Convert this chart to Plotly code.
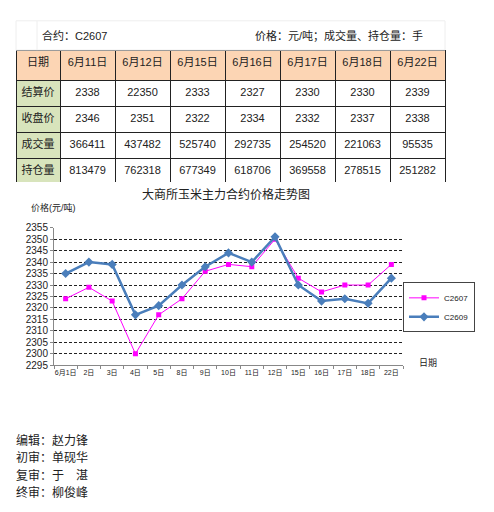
import plotly.graph_objects as go

# page body keeps an 8px margin, so the figure is 16px smaller than the window
OFF = 8
W, H = 494 - 2 * OFF, 512 - 2 * OFF

# table data
table_dates = ["6月11日", "6月12日", "6月15日", "6月16日", "6月17日", "6月18日", "6月22日"]
row_names = ["结算价", "收盘价", "成交量", "持仓量"]
settle = [2338, 22350, 2333, 2327, 2330, 2330, 2339]
close = [2346, 2351, 2322, 2334, 2332, 2337, 2338]
volume = [366411, 437482, 525740, 292735, 254520, 221063, 95535]
open_int = [813479, 762318, 677349, 618706, 369558, 278515, 251282]

# chart data
days = ["6月1日", "2日", "3日", "4日", "5日", "8日", "9日", "10日",
        "11日", "12日", "15日", "16日", "17日", "18日", "22日"]
c2607 = [2324, 2329, 2323, 2300, 2317, 2324, 2336, 2339,
         2338, 2350, 2333, 2327, 2330, 2330, 2339]
c2609 = [2335, 2340, 2339, 2317, 2321, 2330, 2338, 2344,
         2340, 2351, 2330, 2323, 2324, 2322, 2333]

FONT = "Liberation Sans, Noto Sans CJK SC"


def px(x):
    return (x - OFF) / W


def py(y):
    return 1 - (y - OFF) / H


fig = go.Figure()

# table
cols = [row_names] + [[settle[i], close[i], volume[i], open_int[i]] for i in range(len(table_dates))]
fig.add_trace(go.Table(
    domain={'x': [px(16), px(445)], 'y': [py(181), py(45)]},
    columnwidth=[44] + [55] * len(table_dates),
    header=dict(
        values=["日期"] + table_dates,
        fill_color="#FCD5B4",
        line=dict(color="#222", width=1),
        font=dict(family=FONT, size=11, color="#222"),
        align="center", height=30),
    cells=dict(
        values=cols,
        fill_color=[["#D8E4BC"] * 4] + [["white"] * 4] * len(table_dates),
        line=dict(color="#222", width=1),
        font=dict(family=FONT, size=11, color="#222"),
        align="center", height=26),
))

# price lines
fig.add_trace(go.Scatter(
    x=days, y=c2607, name="C2607", mode="lines+markers",
    line=dict(color="#FF00FF", width=1),
    marker=dict(symbol="square", size=5, color="#FF00FF")))
fig.add_trace(go.Scatter(
    x=days, y=c2609, name="C2609", mode="lines+markers",
    line=dict(color="#4A7EBB", width=2.5),
    marker=dict(symbol="diamond", size=7, color="#4A7EBB")))

fig.update_xaxes(
    domain=[px(54), px(403)], type="category", range=[-0.5, len(days) - 0.5],
    showgrid=False, showline=True, linecolor="#888", linewidth=1,
    ticks="outside", tickson="boundaries", ticklen=3, tickcolor="#888",
    tickangle=0, tickfont=dict(family=FONT, size=7, color="#222"), anchor="y")
fig.update_yaxes(
    domain=[py(368), py(227)], range=[2295, 2355], dtick=5,
    showgrid=True, gridcolor="#222", griddash="3px,2px", gridwidth=1,
    showline=True, linecolor="#888", linewidth=1,
    ticks="outside", ticklen=3, tickcolor="#888", zeroline=False,
    tickfont=dict(family=FONT, size=10, color="#222"), anchor="x")

annotations = [
    dict(x=px(40), y=py(30), text="合约：C2607", size=11),
    dict(x=px(253), y=py(30), text="价格：元/吨；成交量、持仓量：手", size=11),
    dict(x=px(140), y=py(193), text="大商所玉米主力合约价格走势图", size=12),
    dict(x=px(29), y=py(206), text="价格(元/吨)", size=9),
    dict(x=px(417), y=py(366), text="日期", size=9),
    dict(x=px(14), y=py(445), text="编辑：赵力锋", size=12),
    dict(x=px(14), y=py(463), text="初审：单砚华", size=12),
    dict(x=px(14), y=py(481), text="复审：于　湛", size=12),
    dict(x=px(14), y=py(498), text="终审：柳俊峰", size=12),
]
fig.update_layout(annotations=[
    dict(xref="paper", yref="paper", x=a["x"], y=a["y"], text=a["text"],
         showarrow=False, xanchor="left", yanchor="middle",
         font=dict(family=FONT, size=a["size"], color="#222"))
    for a in annotations])

# faint gridlines around the header line
fig.update_layout(shapes=[
    dict(type="rect", xref="paper", yref="paper", x0=px(16), x1=px(445),
         y0=py(45), y1=py(15), line=dict(color="#eeeeee", width=1)),
    dict(type="line", xref="paper", yref="paper", x0=px(37), x1=px(37),
         y0=py(45), y1=py(15), line=dict(color="#eeeeee", width=1)),
])

fig.update_layout(
    width=W, height=H, margin=dict(l=0, r=0, t=0, b=0),
    paper_bgcolor="white", plot_bgcolor="white",
    legend=dict(x=px(403), y=py(283), xanchor="left", yanchor="top",
                bgcolor="white", bordercolor="#444", borderwidth=1,
                font=dict(family=FONT, size=8, color="#222"),
                itemwidth=30, tracegroupgap=0),
)

fig.write_html("out.html")
